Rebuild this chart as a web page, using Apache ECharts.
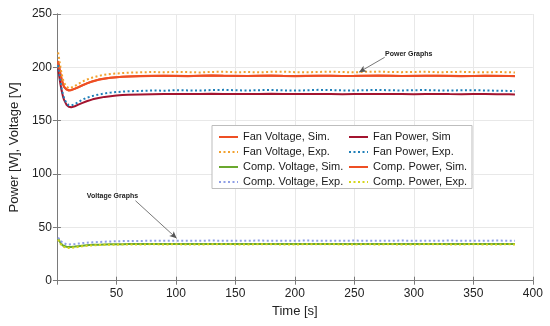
<!DOCTYPE html>
<html><head><meta charset="utf-8">
<script src="https://cdn.jsdelivr.net/npm/echarts@6/dist/echarts.min.js"></script>
<style>html,body{margin:0;padding:0;background:#fff}#c{width:550px;height:326px}</style>
</head><body><div id="c"></div>
<script>
const times = [1,2,3,4,5,6,8,10,12,15,18,21,25,30,35,40,45,50,55,60,70,80,90,100,110,120,130,140,150,160,170,180,190,200,210,220,230,240,250,260,270,280,290,300,310,320,330,340,350,360,370,380,385];
const xTicks = [0,50,100,150,200,250,300,350,400];
const yTicks = [0,50,100,150,200,250];

const fanVoltageSim = [206,200,194,189,185,182,179.5,178.5,178.8,180,181.5,183,185,187,188.5,189.5,190.3,190.8,191.2,191.5,
 191.8,192,192.2,192,191.8,192.2,192.4,192.1,192,191.9,192.1,192.3,192,191.8,192,192.2,192.1,191.9,192,192.2,192.3,192.1,191.9,192,192.1,192.2,192,191.8,191.9,192.1,192,191.9,191.8];
const fanVoltageExp = [214,207,200,194,189,185.5,182,180.5,181,182.5,184.5,186.5,188.5,190.5,192,193,193.8,194.2,194.6,195,
 195.3,195.6,195.4,195.8,195.5,195.2,195.7,195.9,195.4,195.6,195.3,195.8,196,195.5,195.4,195.7,195.9,195.6,195.3,195.8,196,195.6,195.5,195.7,195.9,195.4,195.6,195.8,195.5,195.3,195.6,195.4,195.2];
const fanPowerSim = [199,191,184,178,173,169.5,165,163,162.5,163.5,165,166.5,168.2,170,171.3,172.3,173,173.5,174,174.3,
 174.6,174.8,175,175,174.9,175.1,175.2,175,174.9,175,175.1,175.2,175,174.9,175,175.1,175,174.8,174.9,175,175.1,175,174.9,174.8,175,175.1,174.9,174.8,174.9,175,174.8,174.7,174.6];
const fanPowerExp = [202,194,186.5,180,175,171,166.5,164.5,164.2,165.5,167.5,169.5,171.5,173.2,174.5,175.5,176.3,176.8,177.2,177.6,
 177.9,178.3,178.1,178.6,178.4,178.2,178.7,178.9,178.5,178.3,178.6,178.8,178.4,178.2,178.5,178.9,178.7,178.4,178.3,178.6,178.8,178.5,178.3,178.6,178.7,178.4,178.2,178.5,178.6,178.3,178.1,177.9,177.7];
const compVoltageSim = [39.5,37.5,35.5,34,33,32.4,31.8,31.6,31.7,32,32.4,32.8,33.2,33.6,33.8,34,34.1,34.2,34.2,34.3,
 34.3,34.4,34.3,34.4,34.4,34.3,34.4,34.5,34.4,34.3,34.4,34.4,34.5,34.4,34.3,34.4,34.4,34.5,34.4,34.3,34.4,34.4,34.5,34.4,34.3,34.4,34.4,34.5,34.4,34.3,34.4,34.4,34.3];
const compVoltageExp = [40.5,39,37.5,36.3,35.4,34.8,34.2,34,34.1,34.4,34.8,35.2,35.6,36,36.3,36.6,36.8,37,37.1,37.2,
 37.3,37.4,37.4,37.5,37.4,37.5,37.6,37.5,37.4,37.5,37.6,37.5,37.4,37.5,37.6,37.5,37.4,37.5,37.6,37.5,37.4,37.5,37.6,37.5,37.4,37.5,37.6,37.5,37.4,37.5,37.6,37.5,37.4];
const compPowerSim = [205,199,193,188.5,184.5,181.5,179.2,178.3,178.6,179.8,181.3,182.8,184.8,186.8,188.3,189.4,190.2,190.7,191.1,191.4,
 191.7,191.9,192.1,191.9,191.7,192.1,192.3,192,191.9,191.8,192,192.2,191.9,191.7,191.9,192.1,192,191.8,191.9,192.1,192.2,192,191.8,191.9,192,192.1,191.9,191.7,191.8,192,191.9,191.8,191.7];
const compPowerExp = [38.5,36.5,34.5,33,32,31.4,30.8,30.7,30.8,31.2,31.7,32.2,32.7,33.1,33.4,33.6,33.7,33.8,33.9,34,
 34,34.1,34,34.1,34,34,34.1,34.2,34,34,34.1,34.1,34,34,34.1,34.1,34.2,34,34,34.1,34,34.1,34,34,34.1,34.1,34,34,34.1,34,34,34.1,34];

const FONT = '"Liberation Sans", Arial, Helvetica, sans-serif';
const zip = a => times.map((t, i) => [t, a[i]]);

function mk(name, data, color, dotted, z) {
  return {
    name, type: 'line', data: zip(data), symbol: 'none', z: z || 2,
    lineStyle: { color, width: 2, type: dotted ? [2, 2.5] : 'solid' },
    itemStyle: { color },
    emphasis: { disabled: true }, animation: false
  };
}

const series = [
  mk('Fan Voltage, Sim.', fanVoltageSim, '#ee4f24', false, 3),
  mk('Fan Voltage, Exp.', fanVoltageExp, '#f2a12e', true, 4),
  mk('Comp. Voltage, Sim.', compVoltageSim, '#6aa82e', false, 3),
  mk('Comp. Voltage, Exp.', compVoltageExp, '#8e9ee6', true, 4),
  mk('Fan Power, Sim', fanPowerSim, '#a3142f', false, 3),
  mk('Fan Power, Exp.', fanPowerExp, '#1f7fb8', true, 4),
  mk('Comp. Power, Sim.', compPowerSim, '#ee4f24', false, 3),
  mk('Comp. Power, Exp.', compPowerExp, '#d6d61c', true, 5)
];

// annotations (data coordinates)
series.push({
  type: 'line', data: [], silent: true, animation: false,
  markLine: {
    silent: true, symbol: ['none', 'arrow'], symbolSize: [5, 7],
    lineStyle: { color: '#555', width: 0.8, type: 'solid' },
    label: { show: false },
    data: [
      [{ coord: [275.5, 209.4] }, { coord: [254, 195.5] }],
      [{ coord: [66, 75] }, { coord: [100.6, 39.7] }]
    ]
  },
  markPoint: {
    silent: true, symbol: 'rect', symbolSize: 1, itemStyle: { color: 'rgba(0,0,0,0)' },
    label: { show: true, position: 'inside', color: '#222', fontSize: 7, fontWeight: 'bold', fontFamily: FONT, formatter: p => p.name },
    data: [
      { name: 'Power Graphs', coord: [295.7, 212.5] },
      { name: 'Voltage Graphs', coord: [46.7, 79.7] }
    ]
  }
});

const legendCommon = {
  orient: 'vertical', itemWidth: 19, itemHeight: 10, itemGap: 1,
  textStyle: { fontFamily: FONT, fontSize: 11, color: '#1a1a1a', lineHeight: 14 },
  itemStyle: { opacity: 0 }, selectedMode: false
};

const chart = echarts.init(document.getElementById('c'), null, { renderer: 'canvas' });
chart.setOption({
  animation: false,
  backgroundColor: '#fff',
  grid: { left: 50.4, right: 17.2, top: 14, bottom: 45.3, containLabel: false },
  xAxis: [{
    type: 'value', min: 0, max: 400, interval: 50,
    name: 'Time [s]', nameLocation: 'middle', nameGap: 21,
    nameTextStyle: { fontFamily: FONT, fontSize: 13, color: '#222' },
    axisLine: { show: true, onZero: false, lineStyle: { color: '#7a7a7a', width: 1 } },
    axisTick: { show: true, inside: true, length: 4, lineStyle: { color: '#7a7a7a' } },
    axisLabel: { fontFamily: FONT, fontSize: 12, color: '#222', margin: 7, formatter: v => (v === 0 ? '' : String(v)) },
    splitLine: { show: true, lineStyle: { color: '#e8e8e8', width: 1 } }
  }, {
    type: 'value', position: 'top', min: 0, max: 400, interval: 50,
    axisLine: { show: true, lineStyle: { color: '#7a7a7a', width: 1 } },
    axisTick: { show: true, inside: true, length: 4, lineStyle: { color: '#7a7a7a' } },
    axisLabel: { show: false }, splitLine: { show: false }
  }],
  yAxis: [{
    type: 'value', min: 0, max: 250, interval: 50,
    name: 'Power [W], Voltage [V]', nameLocation: 'middle', nameGap: 29,
    nameTextStyle: { fontFamily: FONT, fontSize: 13, color: '#222' },
    axisLine: { show: true, lineStyle: { color: '#7a7a7a', width: 1 } },
    axisTick: { show: true, inside: true, length: 4, lineStyle: { color: '#7a7a7a' } },
    axisLabel: { fontFamily: FONT, fontSize: 12, color: '#222', margin: 5 },
    splitLine: { show: true, lineStyle: { color: '#e8e8e8', width: 1 } }
  }, {
    type: 'value', position: 'right', min: 0, max: 250, interval: 50,
    axisLine: { show: true, lineStyle: { color: '#7a7a7a', width: 1 } },
    axisTick: { show: true, inside: true, length: 4, lineStyle: { color: '#7a7a7a' } },
    axisLabel: { show: false }, splitLine: { show: false }
  }],
  legend: [
    Object.assign({}, legendCommon, { left: 213, top: 125, data: ['Fan Voltage, Sim.', 'Fan Voltage, Exp.', 'Comp. Voltage, Sim.', 'Comp. Voltage, Exp.'] }),
    Object.assign({}, legendCommon, { left: 343, top: 125, data: ['Fan Power, Sim', 'Fan Power, Exp.', 'Comp. Power, Sim.', 'Comp. Power, Exp.'] })
  ],
  graphic: [{
    type: 'rect', left: 211.5, top: 125, z: 1,
    shape: { width: 260, height: 63 },
    style: { fill: '#fff', stroke: '#bdbdbd', lineWidth: 1 }
  }],
  series
});
</script></body></html>
